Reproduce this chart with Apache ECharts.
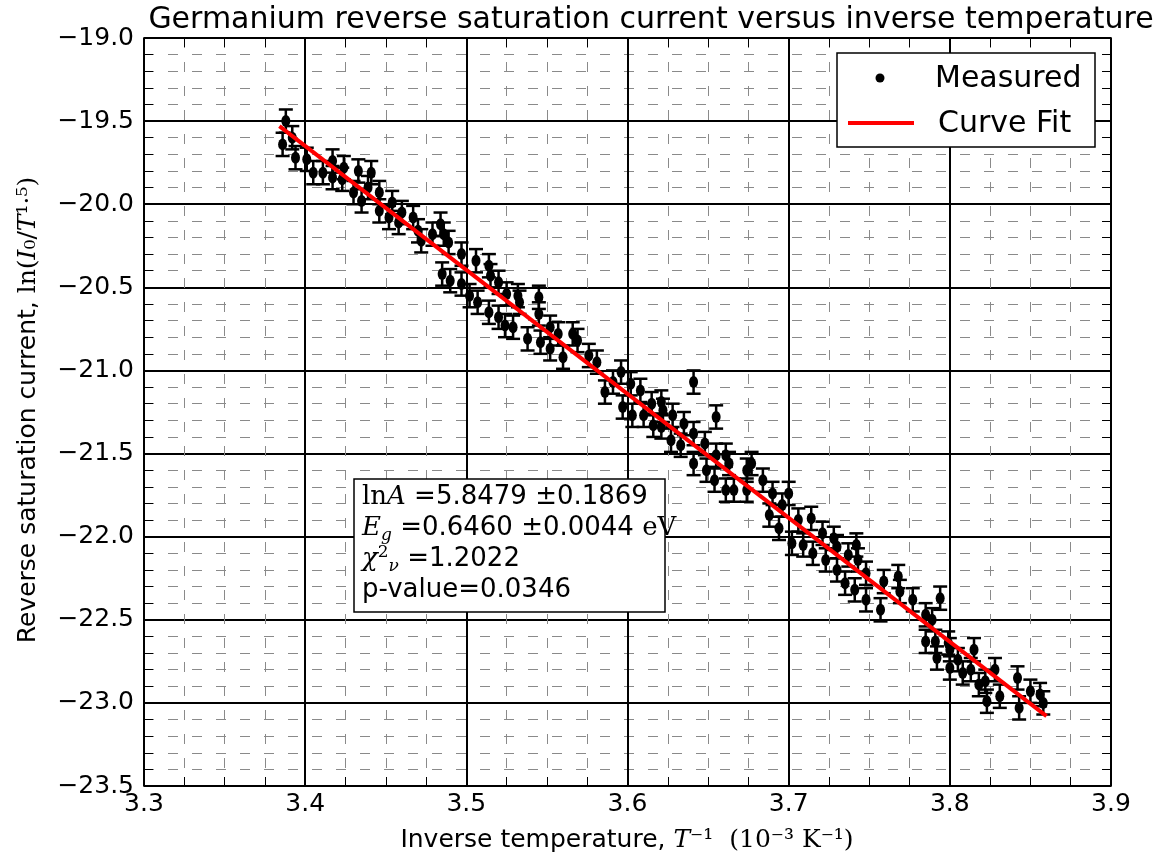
<!DOCTYPE html>
<html>
<head>
<meta charset="utf-8">
<script src="https://cdn.jsdelivr.net/npm/echarts@6/dist/echarts.min.js"></script>
<style>
  html, body { margin: 0; padding: 0; background: #fff; }
  #chart { width: 1155px; height: 863px; }
</style>
</head>
<body>
<div id="chart"></div>
<script>
// measured points, inverse temperature (10^-3 K^-1) and ln(I0/T^1.5)
var measX = [3.388, 3.386, 3.392, 3.394, 3.401, 3.405, 3.411, 3.417, 3.417, 3.423,
  3.424, 3.430, 3.433, 3.435, 3.439, 3.441, 3.446, 3.446, 3.452, 3.454,
  3.458, 3.460, 3.467, 3.470, 3.472, 3.479, 3.484, 3.486, 3.489, 3.497,
  3.485, 3.490, 3.497, 3.502, 3.506, 3.507, 3.514, 3.515, 3.514, 3.520,
  3.520, 3.525, 3.524, 3.529, 3.532, 3.533, 3.538, 3.545, 3.545, 3.546,
  3.552, 3.552, 3.557, 3.560, 3.566, 3.569, 3.576, 3.581, 3.586, 3.591,
  3.596, 3.597, 3.602, 3.603, 3.608, 3.610, 3.615, 3.616, 3.621, 3.622,
  3.621, 3.627, 3.628, 3.633, 3.635, 3.641, 3.641, 3.641, 3.648, 3.649,
  3.655, 3.655, 3.654, 3.661, 3.661, 3.663, 3.666, 3.674, 3.677, 3.674,
  3.684, 3.690, 3.700, 3.688, 3.694, 3.696, 3.702, 3.709, 3.706, 3.714,
  3.715, 3.721, 3.723, 3.728, 3.730, 3.730, 3.735, 3.737, 3.742, 3.743,
  3.741, 3.748, 3.748, 3.757, 3.759, 3.768, 3.769, 3.777, 3.785, 3.794,
  3.789, 3.785, 3.791, 3.792, 3.799, 3.800, 3.800, 3.805, 3.808, 3.813,
  3.815, 3.818, 3.822, 3.823, 3.828, 3.831, 3.842, 3.843, 3.850, 3.856,
  3.858];
var measY = [-19.50, -19.64, -19.60, -19.72, -19.73, -19.81, -19.81, -19.74, -19.84, -19.85,
  -19.78, -19.93, -19.80, -19.98, -19.90, -19.81, -19.93, -20.04, -20.08, -19.99,
  -20.11, -20.05, -20.08, -20.16, -20.22, -20.18, -20.12, -20.18, -20.23, -20.30,
  -20.42, -20.46, -20.48, -20.55, -20.34, -20.59, -20.37, -20.43, -20.65, -20.47,
  -20.68, -20.54, -20.73, -20.74, -20.55, -20.59, -20.81, -20.56, -20.66, -20.83,
  -20.74, -20.87, -20.78, -20.92, -20.78, -20.82, -20.91, -20.95, -21.13, -21.07,
  -21.01, -21.22, -21.08, -21.27, -21.12, -21.27, -21.20, -21.33, -21.19, -21.24,
  -21.34, -21.42, -21.27, -21.45, -21.32, -21.07, -21.38, -21.56, -21.44, -21.60,
  -21.28, -21.51, -21.66, -21.51, -21.72, -21.56, -21.72, -21.60, -21.56, -21.72,
  -21.66, -21.74, -21.74, -21.87, -21.95, -21.81, -22.04, -22.05, -21.90, -21.89,
  -22.10, -21.98, -22.14, -22.01, -22.06, -22.20, -22.28, -22.11, -22.05, -22.14,
  -22.32, -22.22, -22.38, -22.44, -22.27, -22.24, -22.33, -22.38, -22.47, -22.37,
  -22.50, -22.63, -22.63, -22.73, -22.64, -22.68, -22.79, -22.74, -22.82, -22.80,
  -22.68, -22.89, -22.87, -22.99, -22.80, -22.96, -22.85, -23.03, -22.93, -22.95,
  -23.00];
var measErr = 0.07;

// fitted straight line, end points
var fitX = [3.384, 3.860];
var fitY = [-19.53, -23.08];

var statLines = ['5.8479', '0.1869', '0.6460', '0.0044', '1.2022', '0.0346'];

var FONT = 'DejaVu Sans';
var SERIF = 'DejaVu Serif';

var points = measX.map(function (x, i) { return [x, measY[i]]; });
var bars = measX.map(function (x, i) { return [x, measY[i], measErr]; });
var fitLine = fitX.map(function (x, i) { return [x, fitY[i]]; });

function fmt(v) {
  return v.toFixed(1).replace('-', '\u2212');
}

var chart = echarts.init(document.getElementById('chart'));

var majorStyle = { color: '#000', width: 2 };
var minorLine = { show: true, lineStyle: { color: '#8a8a8a', width: 1, type: [10, 14] } };
var tick = { inside: true, length: 12, lineStyle: { color: '#000', width: 1.5 } };

var option = {
  animation: false,
  backgroundColor: '#fff',
  title: {
    text: 'Germanium reverse saturation current versus inverse temperature',
    left: 646,
    textAlign: 'center',
    top: 0,
    textStyle: { fontFamily: FONT, fontSize: 30, fontWeight: 'normal', color: '#000' }
  },
  grid: { left: 144, right: 44, top: 38, bottom: 77, outerBoundsMode: 'none' },
  xAxis: [{
    type: 'value', min: 3.3, max: 3.9, interval: 0.1,
    axisLine: { lineStyle: { color: '#000', width: 1.5 } },
    axisTick: tick,
    minorTick: { show: true, splitNumber: 4, length: 9, lineStyle: { color: '#000', width: 1 } },
    splitLine: { show: true, lineStyle: majorStyle },
    minorSplitLine: minorLine,
    axisLabel: { formatter: fmt, fontFamily: FONT, fontSize: 25, color: '#000', margin: 6 }
  }, {
    type: 'value', min: 3.3, max: 3.9, interval: 0.1, position: 'top',
    axisLine: { lineStyle: { color: '#000', width: 1.5 } },
    axisTick: tick,
    minorTick: { show: true, splitNumber: 4, length: 9, lineStyle: { color: '#000', width: 1 } },
    splitLine: { show: false },
    axisLabel: { show: false }
  }],
  yAxis: [{
    type: 'value', min: -23.5, max: -19, interval: 0.5,
    axisLine: { show: true, lineStyle: { color: '#000', width: 1.5 } },
    axisTick: { show: true, inside: true, length: 12, lineStyle: { color: '#000', width: 1.5 } },
    minorTick: { show: true, splitNumber: 5, length: 9, lineStyle: { color: '#000', width: 1 } },
    splitLine: { show: true, lineStyle: majorStyle },
    minorSplitLine: minorLine,
    axisLabel: { formatter: fmt, fontFamily: FONT, fontSize: 25, color: '#000', margin: 10 }
  }, {
    type: 'value', min: -23.5, max: -19, interval: 0.5, position: 'right',
    axisLine: { show: true, lineStyle: { color: '#000', width: 1.5 } },
    axisTick: { show: true, inside: true, length: 12, lineStyle: { color: '#000', width: 1.5 } },
    minorTick: { show: true, splitNumber: 5, length: 9, lineStyle: { color: '#000', width: 1 } },
    splitLine: { show: false },
    axisLabel: { show: false }
  }],
  series: [
    {
      name: 'error',
      type: 'custom',
      z: 3,
      data: bars,
      renderItem: function (params, api) {
        var x = api.value(0), y = api.value(1), e = api.value(2);
        var top = api.coord([x, y + e]);
        var bot = api.coord([x, y - e]);
        var hw = 7;
        var st = { stroke: '#000', lineWidth: 2.5 };
        return {
          type: 'group',
          children: [
            { type: 'line', shape: { x1: top[0], y1: top[1], x2: bot[0], y2: bot[1] }, style: st },
            { type: 'line', shape: { x1: top[0] - hw, y1: top[1], x2: top[0] + hw, y2: top[1] }, style: st },
            { type: 'line', shape: { x1: bot[0] - hw, y1: bot[1], x2: bot[0] + hw, y2: bot[1] }, style: st }
          ]
        };
      }
    },
    {
      name: 'Measured',
      type: 'scatter',
      z: 4,
      symbol: 'circle',
      symbolSize: [9, 12],
      itemStyle: { color: '#000', opacity: 1 },
      data: points
    },
    {
      name: 'Curve Fit',
      type: 'line',
      z: 5,
      showSymbol: false,
      symbol: 'none',
      lineStyle: { color: '#ff0000', width: 4 },
      data: fitLine
    }
  ],
  graphic: [
    // y axis title
    {
      type: 'text', x: 28, y: 410, rotation: Math.PI / 2,
      style: {
        text: 'Reverse saturation current, {s|ln(}{i|I}{s|\u2080/}{i|T}{s|\u00b9\u00b7\u2075)}',
        fontFamily: FONT, fontSize: 25, fill: '#000', align: 'center', verticalAlign: 'middle',
        rich: {
          s: { fontFamily: SERIF, fontSize: 25 },
          i: { fontFamily: SERIF, fontStyle: 'italic', fontSize: 25 }
        }
      }
    },
    // x axis title
    {
      type: 'text', x: 627, y: 840,
      style: {
        text: 'Inverse temperature, {i|T}{s|\u207b\u00b9  (10\u207b\u00b3 K\u207b\u00b9)}',
        fontFamily: FONT, fontSize: 25, fill: '#000', align: 'center', verticalAlign: 'middle',
        rich: {
          s: { fontFamily: SERIF, fontSize: 25 },
          i: { fontFamily: SERIF, fontStyle: 'italic', fontSize: 25 }
        }
      }
    },
    // legend box
    { type: 'rect', z: 100, shape: { x: 837, y: 53, width: 258, height: 94 },
      style: { fill: '#fff', stroke: '#000', lineWidth: 1.5 } },
    { type: 'circle', z: 101, shape: { cx: 880, cy: 78, r: 4.5 }, style: { fill: '#000' } },
    { type: 'text', z: 101, x: 935, y: 79,
      style: { text: 'Measured', fontFamily: FONT, fontSize: 30, fill: '#000', verticalAlign: 'middle' } },
    { type: 'line', z: 101, shape: { x1: 848, y1: 123, x2: 914, y2: 123 },
      style: { stroke: '#ff0000', lineWidth: 4 } },
    { type: 'text', z: 101, x: 938, y: 124,
      style: { text: 'Curve Fit', fontFamily: FONT, fontSize: 30, fill: '#000', verticalAlign: 'middle' } },
    // fit statistics box
    { type: 'rect', z: 100, shape: { x: 354, y: 479, width: 311, height: 133 },
      style: { fill: '#fff', stroke: '#000', lineWidth: 1.5 } },
    { type: 'text', z: 101, x: 362, y: 482,
      style: {
        text: '{r|ln}{it|A} {n|=' + statLines[0] + ' \u00b1' + statLines[1] + '}\n' +
              '{it|E}{sub|g} {n|=' + statLines[2] + ' \u00b1' + statLines[3] + '} {r|eV}\n' +
              '{it|\u03c7}{sup|2}{sub|\u03bd} {n|=' + statLines[4] + '}\n' +
              '{n|p-value=' + statLines[5] + '}',
        fontFamily: FONT, fontSize: 26, fill: '#000', lineHeight: 31,
        rich: {
          n: { fontFamily: FONT, fontSize: 26, lineHeight: 31 },
          r: { fontFamily: SERIF, fontSize: 26, lineHeight: 31 },
          it: { fontFamily: SERIF, fontStyle: 'italic', fontSize: 26, lineHeight: 31 },
          sub: { fontFamily: SERIF, fontStyle: 'italic', fontSize: 17, lineHeight: 17, verticalAlign: 'bottom' },
          sup: { fontFamily: SERIF, fontSize: 17, lineHeight: 17, verticalAlign: 'top' }
        }
      }
    }
  ]
};

chart.setOption(option);
</script>
</body>
</html>
